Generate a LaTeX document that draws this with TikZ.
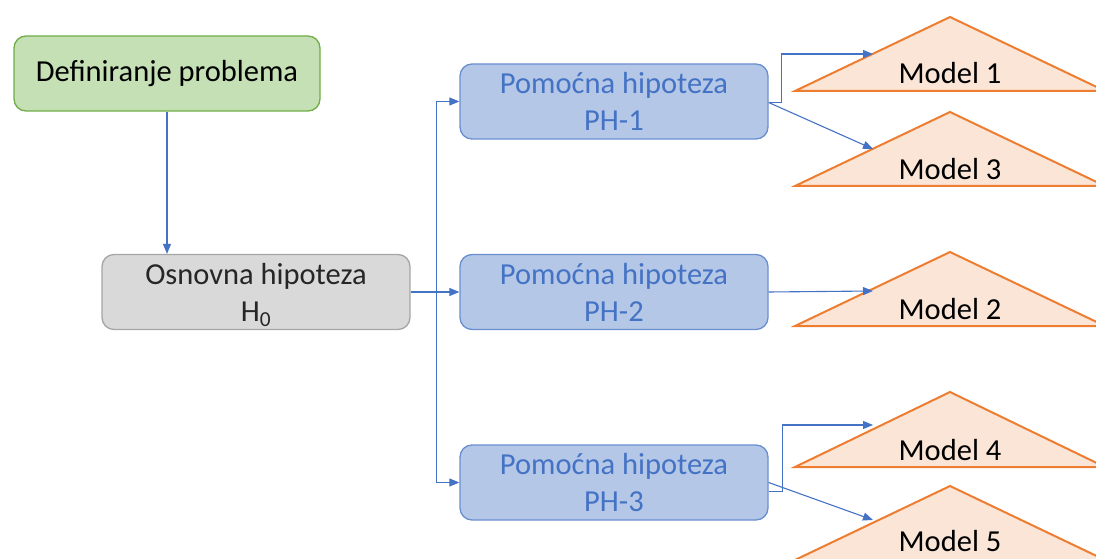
\documentclass[tikz,border=0pt]{standalone}
\usepackage{fontspec}
\setmainfont{Carlito}
\usetikzlibrary{arrows.meta}
\definecolor{gfill}{HTML}{C5E0B4}
\definecolor{gdraw}{HTML}{70AD47}
\definecolor{hfill}{HTML}{D9D9D9}
\definecolor{hdraw}{HTML}{A5A5A5}
\definecolor{bfill}{HTML}{B4C7E7}
\definecolor{bdraw}{HTML}{6A8FD0}
\definecolor{btext}{HTML}{4472C4}
\definecolor{ofill}{HTML}{FBE5D6}
\definecolor{odraw}{HTML}{ED7D31}
\begin{document}
\begin{tikzpicture}[x=1pt,y=-1pt,
  boxbase/.style={rectangle,rounded corners=12pt,minimum width=308pt,minimum height=75pt,align=center,inner sep=0pt,line width=1.3pt,font=\fontsize{30.5}{37}\selectfont},
  greenbox/.style={boxbase,fill=gfill,draw=gdraw,minimum width=306pt},
  graybox/.style={boxbase,fill=hfill,draw=hdraw,text=black!85},
  bluebox/.style={boxbase,fill=bfill,draw=bdraw,text=btext},
  conn/.style={draw=btext,line width=1.1pt,-{Triangle[length=10pt,width=8pt]}},
  tri/.style={fill=ofill,draw=odraw,line width=2pt,line join=miter},
  mlabel/.style={font=\fontsize{30.5}{34}\selectfont,text=black,inner sep=0pt}]
\useasboundingbox (0,0) rectangle (1096,559);
% triangles
\foreach \n/\ay/\by in {t1/17/91,t3/112/186,t2/252/326,t4/392/467,t5/486/560}{
  \draw[tri] (795,\by) -- (950,\ay) -- (1105,\by) -- cycle;
}
\coordinate (a1) at (873,54);
\coordinate (a3) at (873,149);
\coordinate (a2) at (873,291);
\coordinate (a4) at (873,425);
\coordinate (a5) at (873,520);
\node[mlabel] (m1) at (950,73) {Model 1};
\node[mlabel] (m3) at (950,169) {Model 3};
\node[mlabel] (m2) at (950,309) {Model 2};
\node[mlabel] (m4) at (950,450) {Model 4};
\node[mlabel] (m5) at (950,541) {Model 5};
% boxes
\node[greenbox] (def) at (167,73.5) {Definiranje problema};
\node[graybox] (h0) at (256,292) {Osnovna hipoteza\\H\smash{\textsubscript{0}}};
\node[bluebox] (p1) at (614,101.5) {Pomoćna hipoteza\\PH-1};
\node[bluebox] (p2) at (614,292) {Pomoćna hipoteza\\PH-2};
\node[bluebox] (p3) at (614,482.5) {Pomoćna hipoteza\\PH-3};
% connectors
\coordinate (split) at ([xshift=26pt]h0.east);
\draw[conn] (def.south) -- (def.south |- h0.north);
\draw[conn] (h0.east) -- (p2.west);
\draw[conn] (split) |- (p1.west);
\draw[conn] (split) |- (p3.west);
\draw[conn] ([yshift=-1pt]p1.east) -- ++(13,0) |- (a1);
\draw[conn] ([yshift=-1pt]p1.east) -- (a3);
\draw[conn] (p2.east) -- (a2);
\draw[conn] ([yshift=-9pt]p3.east) -- ++(14,0) |- (a4);
\draw[conn] (p3.east) -- (a5);
\end{tikzpicture}
\end{document}
